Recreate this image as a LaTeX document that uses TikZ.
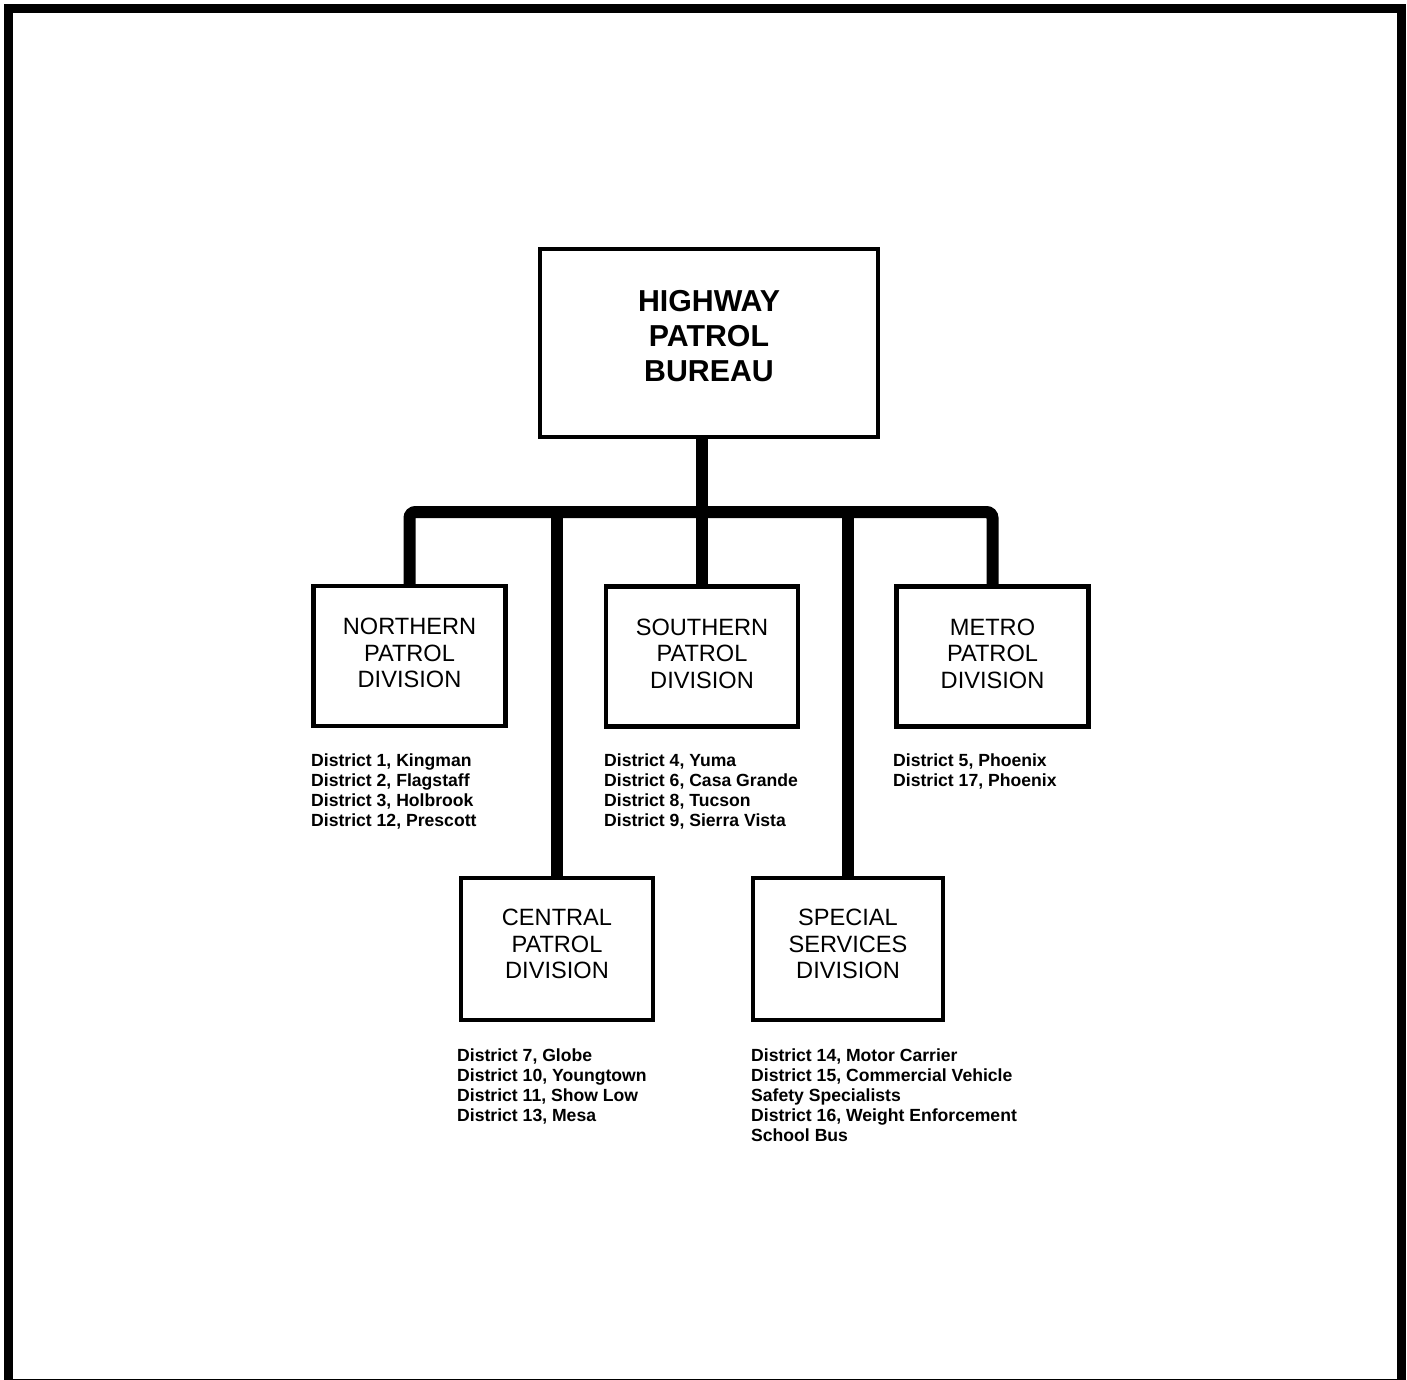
\documentclass[tikz,border=0pt]{standalone}
\usepackage{fontspec}
\setmainfont{Liberation Sans}
\begin{document}
\begin{tikzpicture}[x=1pt,y=-1pt,
 box/.style={draw, line width=4.5pt, inner sep=0pt},
 topbox/.style={box, minimum width=338pt, minimum height=188pt},
 divbox/.style={box, minimum width=192pt, minimum height=140pt},
 toptext/.style={inner sep=0pt, align=center, font=\bfseries\fontsize{30.3}{35}\selectfont},
 divtext/.style={inner sep=0pt, align=center, font=\fontsize{23.6}{26.5}\selectfont},
 conn/.style={line width=12pt},
 dlist/.style={anchor=north west, inner sep=0pt, align=left, font=\bfseries\fontsize{17.6}{20}\selectfont}]
\useasboundingbox (0,0) rectangle (1407,1379);
\fill[white] (0,0) rectangle (1407,1379);
\draw[line width=9pt] (8.5,8.5) rectangle (1401.5,1383);
% boxes
\node[topbox] (top) at (709,343) {};
\node[divbox] (nor) at (409.5,656) {};
\node[divbox] (sou) at (702,656.5) {};
\node[divbox] (met) at (992.5,656.5) {};
\node[divbox, minimum height=142pt] (cen) at (557,949) {};
\node[divbox, minimum height=142pt, minimum width=190pt] (spe) at (848,949) {};
% box texts
\node[toptext] (topt) at ([yshift=7pt]top.center) {HIGHWAY\\PATROL\\BUREAU};
\node[divtext] (nort) at ([yshift=3pt]nor.center) {NORTHERN\\PATROL\\DIVISION};
\node[divtext] (sout) at ([yshift=3pt]sou.center) {SOUTHERN\\PATROL\\DIVISION};
\node[divtext] (mett) at ([yshift=3pt]met.center) {METRO\\PATROL\\DIVISION};
\node[divtext] (cent) at ([yshift=5pt]cen.center) {CENTRAL\\PATROL\\DIVISION};
\node[divtext] (spet) at ([yshift=5pt]spe.center) {SPECIAL\\SERVICES\\DIVISION};
% connectors
\coordinate (bar) at (703,512);
\draw[conn, rounded corners=6pt] (nor.north) |- (bar) -| (met.north);
\draw[conn] (sou.north |- top.south) -- (sou.north);
\draw[conn] (cen.north |- bar) -- (cen.north);
\draw[conn] (spe.north |- bar) -- (spe.north);
% district lists
\node[dlist] (nl) at (311,754) {District 1, Kingman\\District 2, Flagstaff\\District 3, Holbrook\\District 12, Prescott};
\node[dlist] (sl) at (604,754) {District 4, Yuma\\District 6, Casa Grande\\District 8, Tucson\\District 9, Sierra Vista};
\node[dlist] (ml) at (893,754) {District 5, Phoenix\\District 17, Phoenix};
\node[dlist] (cl) at (457,1049) {District 7, Globe\\District 10, Youngtown\\District 11, Show Low\\District 13, Mesa};
\node[dlist] (sp) at (751,1049) {District 14, Motor Carrier\\District 15, Commercial Vehicle\\Safety Specialists\\District 16, Weight Enforcement\\School Bus};
\end{tikzpicture}
\end{document}
